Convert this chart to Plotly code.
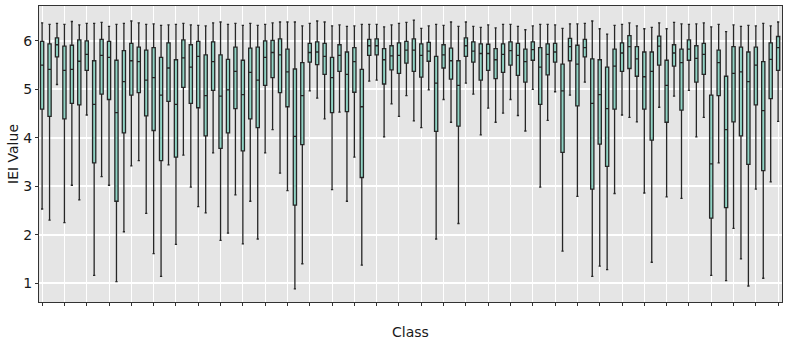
import plotly.graph_objects as go

classes = [str(i + 1) for i in range(100)]

lower = [2.53, 2.30, 5.10, 2.25, 3.02, 2.72, 4.47, 1.16, 3.20, 3.02,
         1.03, 2.06, 3.42, 3.53, 2.44, 1.61, 1.14, 3.44, 1.80, 3.64,
         2.98, 2.58, 2.45, 3.69, 1.88, 2.03, 2.82, 1.81, 2.69, 1.91,
         3.69, 4.17, 3.27, 2.91, 0.88, 1.40, 4.97, 4.82, 4.39, 2.93,
         4.53, 2.69, 3.60, 1.37, 5.17, 5.19, 4.02, 4.70, 4.44, 4.87,
         4.35, 4.21, 4.99, 1.91, 4.79, 4.32, 2.23, 5.13, 4.90, 4.06,
         4.61, 4.32, 4.51, 4.79, 4.46, 4.14, 5.00, 2.98, 4.36, 4.95,
         1.66, 4.88, 2.79, 5.15, 1.14, 1.35, 1.28, 2.85, 4.47, 4.42,
         4.33, 2.86, 1.43, 4.63, 2.78, 4.86, 2.75, 4.98, 4.02, 4.42,
         1.16, 3.48, 1.05, 2.13, 1.50, 0.94, 2.94, 1.10, 3.09, 4.34]

q1 = [4.59, 4.44, 5.67, 4.39, 4.71, 4.68, 5.39, 3.48, 4.90, 4.79,
      2.69, 4.10, 4.88, 4.93, 4.45, 4.15, 3.53, 4.75, 3.60, 5.04,
      4.71, 4.62, 4.04, 4.98, 3.78, 4.10, 4.60, 3.73, 4.39, 4.21,
      5.08, 5.24, 4.93, 4.64, 2.61, 3.86, 5.56, 5.51, 5.31, 4.52,
      5.37, 4.54, 4.94, 3.18, 5.70, 5.71, 5.11, 5.40, 5.33, 5.54,
      5.37, 5.25, 5.58, 4.13, 5.44, 5.21, 4.24, 5.68, 5.56, 5.19,
      5.39, 5.22, 5.35, 5.50, 5.29, 5.15, 5.60, 4.69, 5.30, 5.56,
      3.70, 5.59, 4.66, 5.67, 2.94, 3.87, 3.41, 4.59, 5.37, 5.43,
      5.27, 4.59, 3.95, 5.50, 4.32, 5.48, 4.57, 5.60, 5.15, 5.31,
      2.34, 4.87, 2.56, 4.33, 4.04, 3.45, 4.68, 3.32, 4.81, 5.39]

median = [5.50, 5.41, 5.92, 5.39, 5.41, 5.58, 5.72, 4.69, 5.70, 5.66,
          4.52, 5.16, 5.59, 5.57, 5.19, 5.24, 4.88, 5.44, 4.69, 5.65,
          5.46, 5.68, 4.87, 5.57, 4.86, 4.99, 5.37, 4.89, 5.35, 5.19,
          5.66, 5.76, 5.71, 5.36, 4.03, 4.87, 5.76, 5.77, 5.68, 5.24,
          5.70, 5.31, 5.57, 4.64, 5.90, 5.90, 5.61, 5.69, 5.70, 5.81,
          5.81, 5.70, 5.79, 5.13, 5.71, 5.59, 5.08, 5.90, 5.79, 5.74,
          5.74, 5.61, 5.72, 5.80, 5.70, 5.57, 5.82, 5.46, 5.72, 5.77,
          4.97, 5.88, 5.52, 5.86, 4.71, 4.89, 4.60, 5.48, 5.75, 5.88,
          5.63, 5.26, 5.37, 5.89, 5.08, 5.75, 5.55, 5.83, 5.64, 5.72,
          3.46, 5.55, 4.17, 5.33, 5.36, 5.16, 5.50, 4.56, 5.62, 5.86]

q3 = [5.99, 5.94, 6.06, 5.89, 5.91, 6.02, 6.00, 5.59, 6.03, 5.99,
      5.60, 5.80, 5.95, 5.87, 5.81, 5.86, 5.66, 5.96, 5.61, 6.02,
      5.92, 5.99, 5.71, 5.98, 5.71, 5.62, 5.87, 5.60, 5.85, 5.87,
      6.00, 6.01, 6.04, 5.83, 5.42, 5.55, 5.95, 5.98, 5.95, 5.66,
      5.92, 5.77, 5.86, 5.41, 6.03, 6.04, 5.84, 5.90, 5.96, 5.99,
      6.04, 5.94, 5.97, 5.68, 5.92, 5.85, 5.59, 6.06, 5.98, 5.94,
      5.93, 5.84, 5.94, 5.98, 5.95, 5.83, 5.98, 5.86, 5.94, 5.95,
      5.52, 6.05, 5.91, 6.03, 5.63, 5.61, 5.46, 5.83, 5.96, 6.11,
      5.88, 5.77, 5.77, 6.10, 5.60, 5.92, 5.83, 6.02, 5.90, 5.95,
      4.88, 5.81, 5.27, 5.88, 5.87, 5.77, 5.87, 5.57, 5.96, 6.09]

upper = [6.37, 6.34, 6.36, 6.34, 6.40, 6.33, 6.36, 6.36, 6.38, 6.30,
         6.34, 6.36, 6.41, 6.37, 6.34, 6.35, 6.32, 6.33, 6.34, 6.36,
         6.33, 6.32, 6.31, 6.37, 6.39, 6.34, 6.36, 6.32, 6.36, 6.32,
         6.34, 6.37, 6.39, 6.39, 6.39, 6.31, 6.36, 6.41, 6.39, 6.31,
         6.33, 6.30, 6.31, 6.34, 6.34, 6.34, 6.29, 6.33, 6.36, 6.38,
         6.43, 6.26, 6.31, 6.34, 6.32, 6.39, 6.30, 6.39, 6.30, 6.28,
         6.33, 6.27, 6.34, 6.34, 6.30, 6.23, 6.31, 6.34, 6.34, 6.33,
         6.26, 6.35, 6.35, 6.36, 6.41, 6.25, 6.14, 6.32, 6.34, 6.37,
         6.31, 6.25, 6.28, 6.37, 6.25, 6.38, 6.35, 6.34, 6.35, 6.37,
         6.29, 6.34, 6.19, 6.33, 6.30, 6.32, 6.31, 6.36, 6.31, 6.39]

y_ticks = [1, 2, 3, 4, 5, 6]

fig = go.Figure()
fig.add_trace(go.Box(
    x=classes, q1=q1, median=median, q3=q3,
    lowerfence=lower, upperfence=upper,
    boxpoints=False,
    fillcolor="#8fd3c4",
    line=dict(color="#262626", width=1.3),
    whiskerwidth=0.7,
    showlegend=False,
    hoverinfo="skip",
))

font_family = "DejaVu Sans"
fig.update_layout(
    width=789, height=346,
    margin=dict(l=39, r=7, t=6, b=44, autoexpand=False),
    paper_bgcolor="white",
    plot_bgcolor="#e5e5e5",
    boxgap=0.38,
    font=dict(family=font_family, size=14, color="#1a1a1a"),
    annotations=[dict(
        text="IEI Value", textangle=-90,
        xref="paper", yref="paper", x=-26 / 743, y=0.5,
        xanchor="center", yanchor="middle", showarrow=False,
        font=dict(family=font_family, size=14, color="#1a1a1a"),
    )],
)
fig.update_xaxes(
    type="category", automargin=False,
    categoryorder="array", categoryarray=classes,
    range=[-0.42, 99.52],
    showticklabels=False,
    ticks="outside", ticklen=3, tickwidth=1, tickcolor="#333333",
    showgrid=True, gridcolor="white", gridwidth=1.3,
    showline=True, linecolor="#333333", linewidth=1, mirror=True,
    zeroline=False,
    title=dict(text="Class", font=dict(family=font_family, size=14), standoff=22),
)
fig.update_yaxes(
    automargin=False,
    range=[0.61, 6.72],
    tickvals=y_ticks, ticktext=[str(v) for v in y_ticks],
    ticks="outside", ticklen=3, tickwidth=1, tickcolor="#333333",
    tickfont=dict(family=font_family, size=14),
    showgrid=True, gridcolor="white", gridwidth=1.5,
    showline=True, linecolor="#333333", linewidth=1, mirror=True,
    zeroline=False,
)

fig.write_html("out.html", config={"displayModeBar": False},
               post_script="document.body.style.margin='0';")
